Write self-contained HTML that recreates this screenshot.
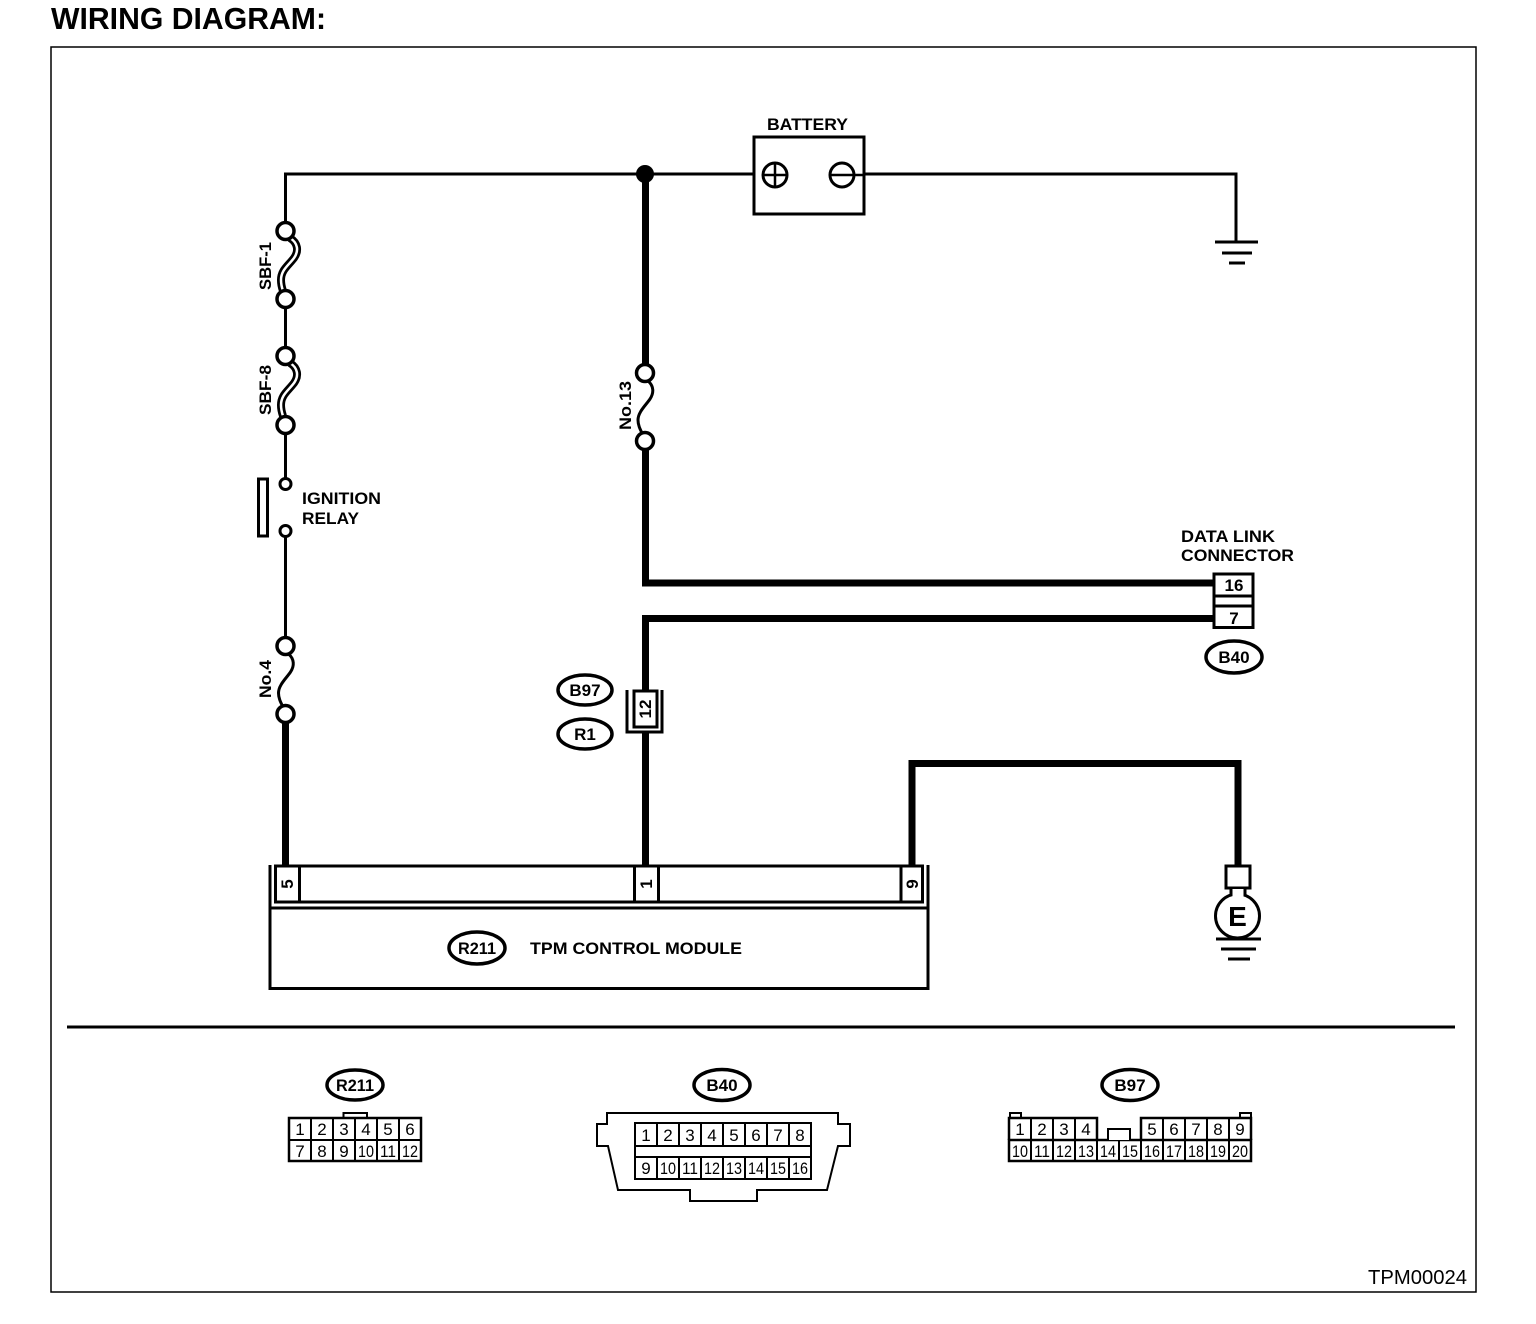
<!DOCTYPE html>
<html><head><meta charset="utf-8"><style>
html,body{margin:0;padding:0;background:#fff}
svg{display:block}
text{font-family:"Liberation Sans",sans-serif;fill:#000}
.b{font-weight:bold;font-size:17px}
.o{font-weight:bold;font-size:17px;text-anchor:middle}
.n{font-size:17px;text-anchor:middle}
.l{fill:none;stroke:#000;stroke-width:3}
.t{fill:none;stroke:#000;stroke-width:7}
.c{fill:#fff;stroke:#000;stroke-width:3}
.f{fill:#fff;stroke:#000;stroke-width:3.5}
.g{fill:#fff;stroke:#000;stroke-width:2}
.e{fill:#fff;stroke:#000;stroke-width:3.5}
</style></head><body>
<svg xmlns="http://www.w3.org/2000/svg" width="1536" height="1324" viewBox="0 0 1536 1324">
<rect width="1536" height="1324" fill="#fff"/>
<text x="51" y="29" font-size="31" font-weight="bold" textLength="275" lengthAdjust="spacingAndGlyphs">WIRING DIAGRAM:</text>
<rect x="51" y="47" width="1425" height="1245" fill="none" stroke="#000" stroke-width="1.5"/>

<!-- top wires -->
<path class="l" d="M285.500,222V174H754M864,174H1236V242"/>
<circle cx="645" cy="174" r="9" fill="#000"/>
<path class="l" d="M1215,242H1258M1222,253H1252M1229,263H1245"/>
<!-- battery -->
<rect x="754" y="137" width="110" height="77" class="c"/>
<circle cx="775" cy="175" r="12" class="c"/><path stroke="#000" stroke-width="2.5" d="M763,175H787M775,163V187"/>
<circle cx="842" cy="175" r="12" class="c"/><path stroke="#000" stroke-width="2.5" d="M830,175H864"/>
<text x="767" y="130" class="b" textLength="81" lengthAdjust="spacingAndGlyphs">BATTERY</text>

<!-- left column -->
<path class="l" d="M285.500,308V347M285.500,434V478M285.500,536V637"/>
<path fill="none" stroke="#000" stroke-width="8" d="M290,238C298,243 299,251 294,258C288,266 281,270 281,280C281,285 282,288 283,291"/>
<path fill="none" stroke="#fff" stroke-width="2.5" d="M290,238C298,243 299,251 294,258C288,266 281,270 281,280C281,285 282,288 283,291"/>
<path fill="none" stroke="#000" stroke-width="8" d="M290,363C298,368 299,376 294,383C288,391 281,395 281,405C281,410 282,413 283,416"/>
<path fill="none" stroke="#fff" stroke-width="2.5" d="M290,363C298,368 299,376 294,383C288,391 281,395 281,405C281,410 282,413 283,416"/>
<circle cx="285.500" cy="231" r="8.500" class="f"/><circle cx="285.500" cy="299" r="8.500" class="f"/>
<circle cx="285.500" cy="356" r="8.500" class="f"/><circle cx="285.500" cy="425" r="8.500" class="f"/>
<text transform="translate(271,290) rotate(-90)" class="b" textLength="48" lengthAdjust="spacingAndGlyphs">SBF-1</text>
<text transform="translate(271,415) rotate(-90)" class="b" textLength="50" lengthAdjust="spacingAndGlyphs">SBF-8</text>
<circle cx="285.500" cy="484" r="5.500" class="c"/><circle cx="285.500" cy="531" r="5.500" class="c"/>
<rect x="258.500" y="479" width="9" height="57" class="c"/>
<text x="302" y="504" class="b" textLength="79" lengthAdjust="spacingAndGlyphs">IGNITION</text>
<text x="302" y="524" class="b" textLength="57" lengthAdjust="spacingAndGlyphs">RELAY</text>
<path class="l" d="M288.500,654C294.500,659 294.500,666 290.500,672C286.500,678 278.500,685 278.500,693C278.500,698 280.500,702 282.500,706"/>
<circle cx="285.500" cy="646" r="8.500" class="f"/><circle cx="285.500" cy="714" r="8.500" class="f"/>
<text transform="translate(271,698) rotate(-90)" class="b" textLength="38" lengthAdjust="spacingAndGlyphs">No.4</text>
<path class="t" d="M285.500,722V866"/>

<!-- middle column -->
<path class="t" d="M645.500,174V364M645.500,449V583H1214M1214,618.500H645.500V690M645.500,732V866"/>
<path class="l" d="M648,381C654,386 654,393 650,399C646,405 638,412 638,420C638,425 640,429 642,433"/>
<circle cx="645" cy="373" r="8.500" class="f"/><circle cx="645" cy="441" r="8.500" class="f"/>
<text transform="translate(631,430) rotate(-90)" class="b" textLength="49" lengthAdjust="spacingAndGlyphs">No.13</text>

<!-- connector 12 -->
<path class="l" d="M627,690V732H662V690"/>
<rect x="634" y="691" width="23" height="36" class="c"/>
<text transform="translate(651,709) rotate(-90)" class="o">12</text>
<ellipse cx="585" cy="690" rx="27" ry="15" class="e"/><text x="585" y="696" class="o">B97</text>
<ellipse cx="585" cy="734" rx="27" ry="15" class="e"/><text x="585" y="740" class="o">R1</text>

<!-- data link connector -->
<rect x="1214" y="574" width="39" height="53.500" class="c"/>
<path class="l" d="M1214,596H1253M1214,606H1253"/>
<text x="1234" y="591" class="o">16</text><text x="1234" y="624" class="o">7</text>
<text x="1181" y="542" class="b" textLength="94" lengthAdjust="spacingAndGlyphs">DATA LINK</text>
<text x="1181" y="561" class="b" textLength="113" lengthAdjust="spacingAndGlyphs">CONNECTOR</text>
<ellipse cx="1234" cy="657" rx="28" ry="16" class="e"/><text x="1234" y="663" class="o">B40</text>

<!-- module -->
<path class="t" d="M912,866V763.500H1238V866"/>
<path class="l" d="M270,865V988.500H928V865"/>
<path class="l" d="M270,908H928"/>
<rect x="275.500" y="866" width="647" height="36" class="c"/>
<path class="l" d="M299.500,866V902M634.500,866V902M658.500,866V902M901,866V902"/>
<text transform="translate(293,884) rotate(-90)" class="o">5</text>
<text transform="translate(652,884) rotate(-90)" class="o">1</text>
<text transform="translate(918,884) rotate(-90)" class="o">9</text>
<ellipse cx="477" cy="948" rx="28" ry="16" class="e"/><text x="477" y="954" class="o" textLength="38" lengthAdjust="spacingAndGlyphs">R211</text>
<text x="530" y="954" class="b" textLength="212" lengthAdjust="spacingAndGlyphs">TPM CONTROL MODULE</text>

<!-- E ground -->
<rect x="1226" y="866" width="24" height="22" class="c"/>
<path class="l" d="M1231,888V897M1245,888V897"/>
<circle cx="1237.500" cy="916" r="22" class="c"/>
<path fill="#fff" stroke="none" d="M1232.500,889H1243.500V898H1232.500Z"/>
<text x="1237.500" y="926" font-size="28" font-weight="bold" text-anchor="middle">E</text>
<path class="l" d="M1216,939H1261M1221,949H1256M1228,959H1250"/>

<!-- divider -->
<path class="l" d="M67,1027H1455"/>

<!-- R211 connector -->
<ellipse cx="355" cy="1085" rx="28" ry="15" class="e"/><text x="355" y="1091" class="o" textLength="38" lengthAdjust="spacingAndGlyphs">R211</text>
<path class="g" d="M343.500,1118V1113H367V1118"/>
<rect x="289" y="1118" width="132" height="43" fill="#fff" stroke="#000" stroke-width="2.500"/>
<path class="g" d="M289,1140H421M311,1118V1161M333,1118V1161M355,1118V1161M377,1118V1161M399,1118V1161"/>
<text class="n" x="300" y="1135">1</text><text class="n" x="322" y="1135">2</text><text class="n" x="344" y="1135">3</text><text class="n" x="366" y="1135">4</text><text class="n" x="388" y="1135">5</text><text class="n" x="410" y="1135">6</text>
<text class="n" x="300" y="1157">7</text><text class="n" x="322" y="1157">8</text><text class="n" x="344" y="1157">9</text><text class="n" x="366" y="1157" textLength="16" lengthAdjust="spacingAndGlyphs">10</text><text class="n" x="388" y="1157" textLength="16" lengthAdjust="spacingAndGlyphs">11</text><text class="n" x="410" y="1157" textLength="16" lengthAdjust="spacingAndGlyphs">12</text>

<!-- B40 connector -->
<ellipse cx="722" cy="1085" rx="28" ry="15.500" class="e"/><text x="722" y="1091" class="o">B40</text>
<path fill="none" stroke="#000" stroke-width="2" d="M607,1124V1113H838V1124H850V1146H838L827,1190H757V1201H690V1190H618L608,1146H597V1124Z"/>
<rect x="635" y="1123" width="176" height="56" class="g"/>
<path class="g" d="M635,1146H811M635,1157H811M657,1123V1146M679,1123V1146M701,1123V1146M723,1123V1146M745,1123V1146M767,1123V1146M789,1123V1146M657,1157V1179M679,1157V1179M701,1157V1179M723,1157V1179M745,1157V1179M767,1157V1179M789,1157V1179"/>
<text class="n" x="646" y="1141">1</text><text class="n" x="668" y="1141">2</text><text class="n" x="690" y="1141">3</text><text class="n" x="712" y="1141">4</text><text class="n" x="734" y="1141">5</text><text class="n" x="756" y="1141">6</text><text class="n" x="778" y="1141">7</text><text class="n" x="800" y="1141">8</text>
<text class="n" x="646" y="1174">9</text><text class="n" x="668" y="1174" textLength="16" lengthAdjust="spacingAndGlyphs">10</text><text class="n" x="690" y="1174" textLength="16" lengthAdjust="spacingAndGlyphs">11</text><text class="n" x="712" y="1174" textLength="16" lengthAdjust="spacingAndGlyphs">12</text><text class="n" x="734" y="1174" textLength="16" lengthAdjust="spacingAndGlyphs">13</text><text class="n" x="756" y="1174" textLength="16" lengthAdjust="spacingAndGlyphs">14</text><text class="n" x="778" y="1174" textLength="16" lengthAdjust="spacingAndGlyphs">15</text><text class="n" x="800" y="1174" textLength="16" lengthAdjust="spacingAndGlyphs">16</text>

<!-- B97 connector -->
<ellipse cx="1130" cy="1085" rx="28" ry="15.500" class="e"/><text x="1130" y="1091" class="o">B97</text>
<path class="g" d="M1010,1118V1113H1021V1118M1240,1118V1113H1251V1118"/>
<path fill="none" stroke="#000" stroke-width="2.5" d="M1009,1140V1118H1097V1140M1141,1140V1118H1251V1140"/>
<path fill="none" stroke="#000" stroke-width="2.5" d="M1009,1140H1251V1161H1009Z"/>
<path class="g" d="M1108,1140V1129H1130V1140"/>
<path class="g" d="M1031,1118V1161M1053,1118V1161M1075,1118V1161M1097,1118V1161M1119,1140V1161M1141,1118V1161M1163,1118V1161M1185,1118V1161M1207,1118V1161M1229,1118V1161"/>
<text class="n" x="1020" y="1135">1</text><text class="n" x="1042" y="1135">2</text><text class="n" x="1064" y="1135">3</text><text class="n" x="1086" y="1135">4</text><text class="n" x="1152" y="1135">5</text><text class="n" x="1174" y="1135">6</text><text class="n" x="1196" y="1135">7</text><text class="n" x="1218" y="1135">8</text><text class="n" x="1240" y="1135">9</text>
<text class="n" x="1020" y="1157" textLength="16" lengthAdjust="spacingAndGlyphs">10</text><text class="n" x="1042" y="1157" textLength="16" lengthAdjust="spacingAndGlyphs">11</text><text class="n" x="1064" y="1157" textLength="16" lengthAdjust="spacingAndGlyphs">12</text><text class="n" x="1086" y="1157" textLength="16" lengthAdjust="spacingAndGlyphs">13</text><text class="n" x="1108" y="1157" textLength="16" lengthAdjust="spacingAndGlyphs">14</text><text class="n" x="1130" y="1157" textLength="16" lengthAdjust="spacingAndGlyphs">15</text><text class="n" x="1152" y="1157" textLength="16" lengthAdjust="spacingAndGlyphs">16</text><text class="n" x="1174" y="1157" textLength="16" lengthAdjust="spacingAndGlyphs">17</text><text class="n" x="1196" y="1157" textLength="16" lengthAdjust="spacingAndGlyphs">18</text><text class="n" x="1218" y="1157" textLength="16" lengthAdjust="spacingAndGlyphs">19</text><text class="n" x="1240" y="1157" textLength="16" lengthAdjust="spacingAndGlyphs">20</text>

<text x="1368" y="1284" font-size="20" textLength="99" lengthAdjust="spacingAndGlyphs">TPM00024</text>
</svg>
</body></html>
